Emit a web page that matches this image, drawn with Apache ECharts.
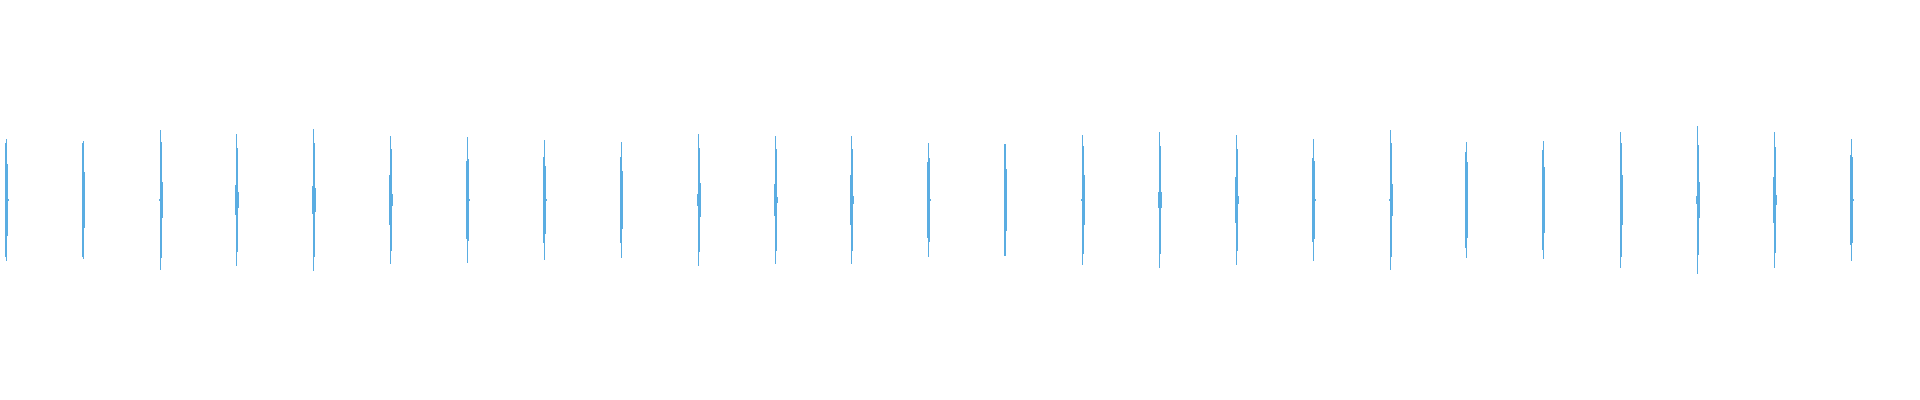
<!DOCTYPE html>
<html>
<head>
<meta charset="utf-8">
<script src="https://cdn.jsdelivr.net/npm/echarts@6/dist/echarts.min.js"></script>
<style>
html,body{margin:0;padding:0;background:#ffffff;}
#main{width:1920px;height:400px;}
</style>
</head>
<body>
<div id="main"></div>
<script>
// 25 groups, each drawn as a thin mirrored density strip centred on 0
const categories = ['1','2','3','4','5','6','7','8','9','10','11','12','13','14','15','16','17','18','19','20','21','22','23','24','25'];
// half-spread (value units) of each strip of a group
const leftStrip   = [28.5,28.5,0.3,7.4,7.2,12.3,19.5,21.3,21.5,2.9,8.2,12.4,19,27.8,0.3,4,11.4,21,0.3,23.8,24.8,0,1.8,11.5,22.3];
const centerLine  = [30.5,29.5,34.8,32.9,35.7,31.8,31.5,30,28.8,32.9,31.8,31.8,28.5,27.8,32.3,33.8,32.5,30.3,34.8,29,29.3,34,37,33.8,30.5];
const rightStrip  = [18,14,28.8,26.2,28.4,25.5,20.3,17,14.3,25.8,25.3,25.3,21,15.3,26.8,26.8,25.5,19.5,28.5,19,16.5,28.5,27.3,26.5,21.3];
const outerStrip  = [0.3,0,9,4.2,5.8,2.9,0.3,0.3,0,8.4,1.3,1.8,0.3,0,12.5,4,1.8,0.3,7.8,0,0,12.5,9,2.3,0.3];

const color = '#5aade2';
const seriesData = categories.map((c, i) => [i, leftStrip[i], centerLine[i], rightStrip[i], outerStrip[i]]);

const chart = echarts.init(document.getElementById('main'));
chart.setOption({
  animation: false,
  grid: { left: 6, right: 69, top: 0, bottom: 0, containLabel: false },
  xAxis: { type: 'category', data: categories, boundaryGap: false, show: false },
  yAxis: { type: 'value', min: -100, max: 100, show: false },
  series: [{
    type: 'custom',
    data: seriesData,
    encode: { x: 0, y: [1, 2, 3, 4] },
    renderItem: function (params, api) {
      const i = api.value(0);
      const base = api.coord([i, 0]);
      const x0 = Math.floor(base[0] + 0.3);
      const strips = [
        { v: api.value(1), x: x0 - 1, w: 1 },
        { v: api.value(2), x: x0, w: 1 },
        { v: api.value(3), x: x0 + 1, w: 1 },
        { v: api.value(4), x: x0 + 2, w: 1 }
      ];
      const children = strips.filter(s => s.v > 0).map(s => {
        const top = Math.round(api.coord([i, s.v])[1]);
        const bot = Math.round(api.coord([i, -s.v])[1]);
        return { type: 'rect', shape: { x: s.x, y: top, width: s.w, height: Math.max(1, bot - top) }, style: { fill: color } };
      });
      return { type: 'group', children: children };
    }
  }]
});
</script>
</body>
</html>
